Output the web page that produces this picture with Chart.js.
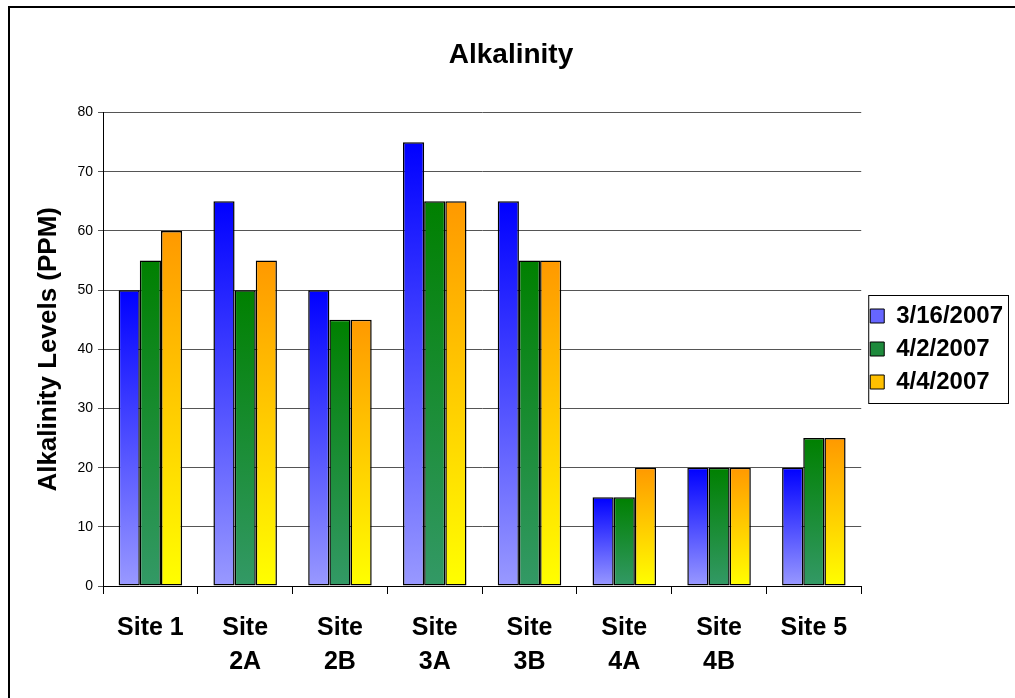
<!DOCTYPE html>
<html>
<head>
<meta charset="utf-8">
<script src="https://cdn.jsdelivr.net/npm/chart.js@4"></script>
<style>
  html, body { margin: 0; padding: 0; background: #fff; }
  #wrap { position: absolute; left: 0; top: 0; width: 1015px; height: 698px; }
</style>
</head>
<body>
<div id="wrap"><canvas id="alkChart"></canvas></div>
<script>
let sites = [["Site 1"], ["Site", "2A"], ["Site", "2B"], ["Site", "3A"], ["Site", "3B"], ["Site", "4A"], ["Site", "4B"], ["Site 5"]];
let dates = ["3/16/2007", "4/2/2007", "4/4/2007"];
let mar16 = [50, 65, 50, 75, 65, 15, 20, 20];
let apr2 = [55, 50, 45, 65, 55, 15, 20, 25];
let apr4 = [60, 55, 45, 65, 55, 20, 20, 25];
let yTicks = [0, 10, 20, 30, 40, 50, 60, 70, 80];

// top colour, bottom colour, legend colour
let fills = [
    ["#0000ff", "#9999ff", "#6666ff"],
    ["#008000", "#339966", "#1e8a3c"],
    ["#ff9900", "#ffff00", "#ffc000"]
];

const FONT = "'Liberation Sans', Arial, sans-serif";

function barFill(i) {
    return function (ctx) {
        let chart = ctx.chart;
        if (ctx.type !== "data" || !chart.chartArea || !chart.scales.y) return fills[i][2];
        let y = chart.scales.y;
        let top = y.getPixelForValue(ctx.parsed.y);
        let base = y.getPixelForValue(0);
        if (!isFinite(top) || top === base) return fills[i][2];
        let g = chart.ctx.createLinearGradient(0, top, 0, base);
        g.addColorStop(0, fills[i][0]);
        g.addColorStop(1, fills[i][1]);
        return g;
    };
}

const frame = {
    id: "frame",
    afterDraw(chart) {
        let c = chart.ctx;
        c.save();
        c.strokeStyle = "#000";
        c.lineWidth = 2;
        c.beginPath();
        c.moveTo(9, 700);
        c.lineTo(9, 7);
        c.lineTo(1015, 7);
        c.stroke();
        // legend box
        let lg = chart.legend;
        if (lg && lg.legendHitBoxes.length) {
            let hb = lg.legendHitBoxes;
            let x0 = hb[0].left - 2;
            let y0 = hb[0].top - 9;
            let x1 = Math.max(...hb.map(h => h.left + h.width)) + 5;
            let y1 = hb[hb.length - 1].top + hb[hb.length - 1].height + 9;
            c.lineWidth = 1;
            c.strokeRect(x0 + 0.5, y0 + 0.5, x1 - x0, y1 - y0);
        }
        c.restore();
    }
};

new Chart(document.getElementById("alkChart"), {
    type: "bar",
    data: {
        labels: sites,
        datasets: [mar16, apr2, apr4].map((d, i) => ({
            label: dates[i],
            data: d,
            backgroundColor: barFill(i),
            borderColor: "#000",
            borderWidth: 1.5,
            borderSkipped: false,
            categoryPercentage: 0.67,
            barPercentage: 1
        }))
    },
    options: {
        responsive: true,
        maintainAspectRatio: false,
        animation: false,
        layout: { padding: { left: 9, right: 2, top: 0, bottom: 0 } },
        plugins: {
            title: {
                display: true,
                text: "Alkalinity",
                color: "#000",
                font: { family: FONT, size: 28, weight: "bold" },
                padding: { top: 38, bottom: 41 }
            },
            legend: {
                position: "right",
                labels: {
                    color: "#000",
                    font: { family: FONT, size: 24, weight: "bold" },
                    boxWidth: 14,
                    boxHeight: 14,
                    padding: 9,
                    generateLabels(chart) {
                        return chart.data.datasets.map((ds, i) => ({
                            text: ds.label,
                            fillStyle: fills[i][2],
                            strokeStyle: "#000",
                            lineWidth: 1,
                            datasetIndex: i
                        }));
                    }
                }
            },
            tooltip: { enabled: false }
        },
        scales: {
            x: {
                grid: { offset: true, drawOnChartArea: false, drawTicks: true, tickLength: 8, color: "#000" },
                border: { color: "#000", width: 1 },
                ticks: {
                    color: "#000",
                    padding: 17,
                    maxRotation: 0,
                    autoSkip: false,
                    font: { family: FONT, size: 25, weight: "bold", lineHeight: 1.36 }
                },
                afterFit(scale) { scale.height = 112; }
            },
            y: {
                min: 0,
                max: 80,
                afterBuildTicks(scale) { scale.ticks = yTicks.map(v => ({ value: v })); },
                grid: { color: "#555", tickLength: 5, drawTicks: true },
                border: { color: "#000", width: 1 },
                ticks: {
                    color: "#000",
                    padding: 5,
                    font: { family: FONT, size: 14 }
                },
                title: {
                    display: true,
                    text: "Alkalinity Levels (PPM)",
                    color: "#000",
                    font: { family: FONT, size: 26, weight: "bold" },
                    padding: { top: 24, bottom: 0 }
                },
                afterFit(scale) { scale.width = 94; }
            }
        }
    },
    plugins: [frame]
});
</script>
</body>
</html>
